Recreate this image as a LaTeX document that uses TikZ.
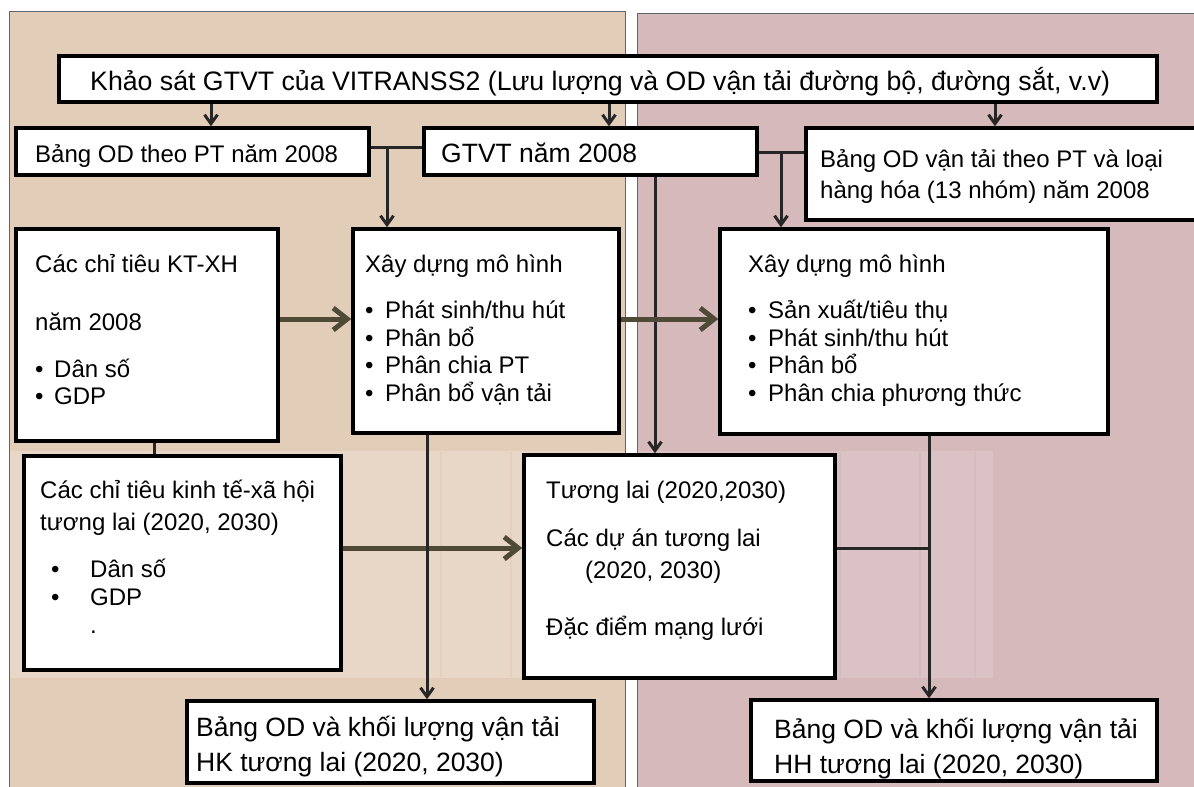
\documentclass[tikz,border=0pt]{standalone}
\usepackage{fontspec}
\setmainfont{Liberation Sans}
\usetikzlibrary{arrows.meta,fit}
\definecolor{tanc}{HTML}{E2CDB9}
\definecolor{pinkc}{HTML}{D6B9BB}
\definecolor{tanband}{HTML}{E8D7C7}
\definecolor{pinkband}{HTML}{DBC3C5}
\definecolor{panelline}{HTML}{5E6675}
\definecolor{linec}{HTML}{262626}
\definecolor{olivec}{HTML}{4E4A36}
\newcommand{\myfs}[1]{\fontsize{#1}{#1}\selectfont}
\begin{document}
\begin{tikzpicture}[x=1pt,y=-1pt,
  box/.style={draw=black, line width=3.5pt, fill=white, inner sep=0pt, rectangle},
  txt/.style={anchor=base west, inner sep=0pt, font=\myfs{24}},
  conn/.style={draw=linec, line width=3pt},
  arr/.style={draw=linec, line width=3pt, -{Straight Barb[length=9pt,width=13pt]}},
  bigarr/.style={draw=olivec, line width=5pt, -{Straight Barb[length=14pt,width=22pt]}}]
\useasboundingbox (0,0) rectangle (1194,787);
% panels
\fill[tanc] (9,11) rectangle (625,795);
\draw[panelline, line width=1pt] (9,795) -- (9,11) -- (625,11) -- (625,795);
\fill[pinkc] (637,13) rectangle (1200,795);
\draw[panelline, line width=1pt] (637,795) -- (637,13) -- (1200,13);
% lighter band
\fill[tanband] (10,451) rectangle (624,678);
\fill[pinkband] (638,451) rectangle (993,678);
\foreach \x in {441,511,600} \draw[tanc!70!tanband, line width=1.5pt] (\x,452) -- (\x,677);
\foreach \x in {840,920,975} \draw[pinkc!70!pinkband, line width=1.5pt] (\x,452) -- (\x,677);

% boxes
\node[box, fit={(59,56) (1157,102)}] (top) {};
\node[box, fit={(16,128) (369,175)}] (bod) {};
\node[box, fit={(424,128) (757,175)}] (gtvt) {};
\node[box, fit={(806,128) (1203,220)}] (rod) {};
\node[box, fit={(16,229) (278,441)}] (kt) {};
\node[box, fit={(353,229) (619,433)}] (mid) {};
\node[box, fit={(720,229) (1108,434)}] (rmid) {};
\node[box, fit={(24,456) (341,670)}] (fkt) {};
\node[box, fit={(524,455) (835,678)}] (tl) {};
\node[box, fit={(187,701) (594,783)}] (hk) {};
\node[box, fit={(751,700) (1157,781)}] (hh) {};

% texts
\node[txt, font=\myfs{26.7}] (t1) at (90,90) {Khảo sát GTVT của VITRANSS2 (Lưu lượng và OD vận tải đường bộ, đường sắt, v.v)};
\node[txt, font=\myfs{24}] (t2) at (35,162) {Bảng OD theo PT năm 2008};
\node[txt, font=\myfs{26.5}] (t3) at (441,162) {GTVT năm 2008};
\node[txt] (t4a) at (820,167) {Bảng OD vận tải theo PT và loại};
\node[txt] (t4b) at (820,198) {hàng hóa (13 nhóm) năm 2008};

\node[txt] (k1) at (35,272) {Các chỉ tiêu KT-XH};
\node[txt] (k2) at (35,330) {năm 2008};
\node[txt] (k3b) at (35,377) {•};
\node[txt] (k3) at (54,377) {Dân số};
\node[txt] (k4b) at (35,404) {•};
\node[txt] (k4) at (54,404) {GDP};

\node[txt] (m0) at (365,272) {Xây dựng mô hình};
\foreach \y/\s [count=\i] in {318/{Phát sinh/thu hút},346/{Phân bổ},373/{Phân chia PT},401/{Phân bổ vận tải}}{
  \node[txt] (mb\i) at (365,\y) {•};
  \node[txt] (m\i) at (385,\y) {\s};
}
\node[txt] (r0) at (748,272) {Xây dựng mô hình};
\foreach \y/\s [count=\i] in {318/{Sản xuất/tiêu thụ},346/{Phát sinh/thu hút},373/{Phân bổ},401/{Phân chia phương thức}}{
  \node[txt] (rb\i) at (748,\y) {•};
  \node[txt] (r\i) at (768,\y) {\s};
}

\node[txt] (f1) at (40,498) {Các chỉ tiêu kinh tế-xã hội};
\node[txt] (f2) at (40,530) {tương lai (2020, 2030)};
\node[txt] (f3b) at (51,577) {•};
\node[txt] (f3) at (90,577) {Dân số};
\node[txt] (f4b) at (51,605) {•};
\node[txt] (f4) at (90,605) {GDP};
\node[txt] (f5) at (90,633) {.};

\node[txt] (l1) at (546,498) {Tương lai (2020,2030)};
\node[txt] (l2) at (546,546) {Các dự án tương lai};
\node[txt] (l3) at (585,578) {(2020, 2030)};
\node[txt] (l4) at (546,635) {Đặc điểm mạng lưới};

\node[txt, font=\myfs{26.5}] (h1) at (196,736) {Bảng OD và khối lượng vận tải};
\node[txt, font=\myfs{26.5}] (h2) at (196,771) {HK tương lai (2020, 2030)};
\node[txt, font=\myfs{26.5}] (g1) at (774,738) {Bảng OD và khối lượng vận tải};
\node[txt, font=\myfs{26.5}] (g2) at (774,773) {HH tương lai (2020, 2030)};

% connectors
\draw[arr] (top.south -| 211,0) -- (bod.north -| 211,0);
\draw[arr] (top.south -| 609,0) -- (gtvt.north -| 609,0);
\draw[arr] (top.south -| 995,0) -- (rod.north -| 995,0);

\coordinate (j1) at (387,147);
\draw[conn] (bod.east |- j1) -- (gtvt.west |- j1);
\draw[arr] (j1) -- (mid.north -| j1);

\coordinate (j2) at (781,152);
\draw[conn] (gtvt.east |- j2) -- (rod.west |- j2);
\draw[arr] (j2) -- (rmid.north -| j2);

\draw[arr] (gtvt.south -| 655,0) -- (tl.north -| 655,0);

\draw[bigarr] (kt.east |- 0,319) -- (mid.west |- 0,319);
\draw[bigarr] (mid.east |- 0,319) -- (rmid.west |- 0,319);

\draw[conn] (kt.south -| 154,0) -- (fkt.north -| 154,0);
\draw[bigarr] (fkt.east |- 0,548) -- (tl.west |- 0,548);
\draw[arr] (mid.south -| 427,0) -- (hk.north -| 427,0);

\coordinate (j3) at (929,548);
\draw[conn] (tl.east |- j3) -- (j3);
\draw[arr] (rmid.south -| j3) -- (hh.north -| j3);
\end{tikzpicture}
\end{document}
